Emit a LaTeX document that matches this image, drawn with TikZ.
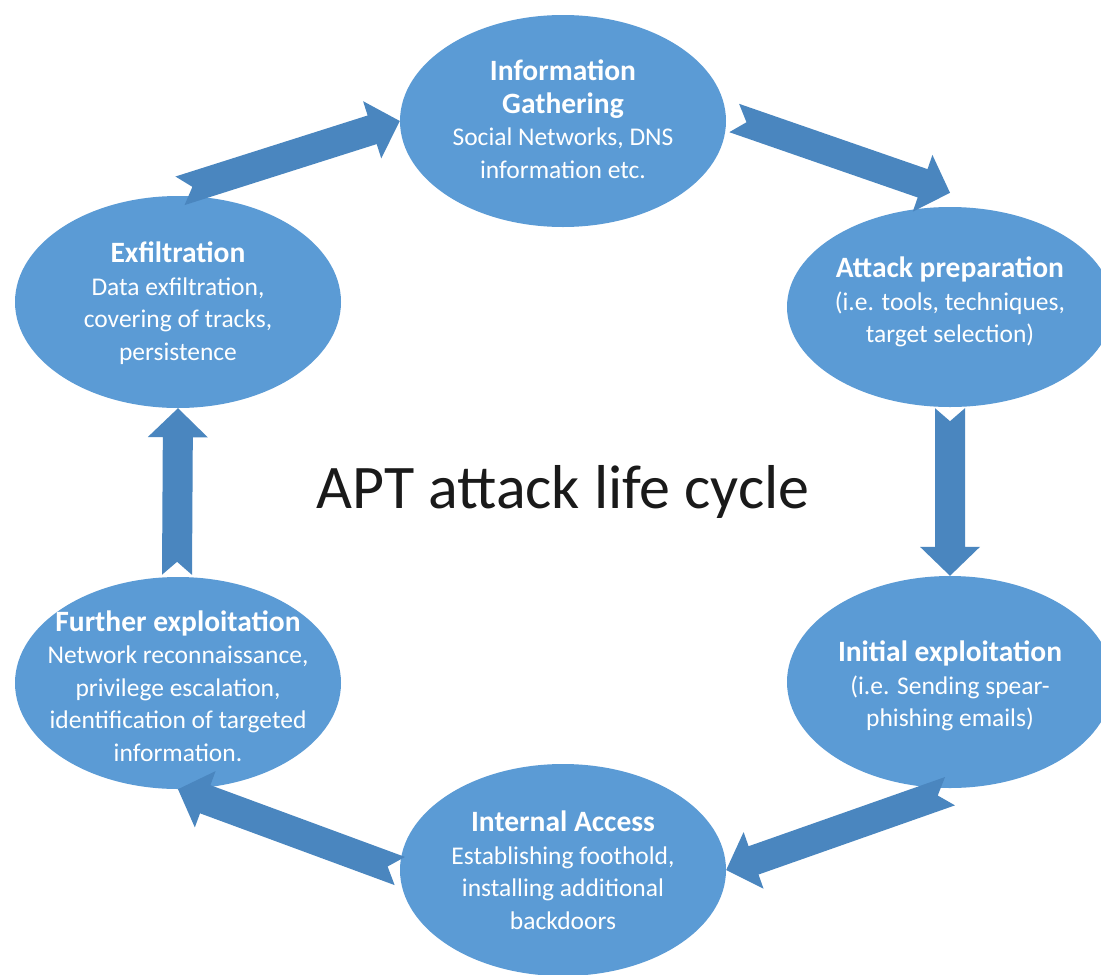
\documentclass[tikz,border=0pt]{standalone}
\usepackage{fontspec}
\setmainfont{Carlito}
\usetikzlibrary{shapes.geometric,calc}
\definecolor{stagefill}{HTML}{5B9BD5}
\definecolor{arrowfill}{HTML}{4A86BF}
\definecolor{titleink}{HTML}{1A1A1A}

% notched block arrow from tail coordinate #1 to tip coordinate #2
\newcommand\blockarrow[2]{%
  \coordinate (hb) at ($(#2)!29pt!(#1)$);
  \fill[arrowfill]
    ($(#1)!15pt!90:(#2)$) -- ($(hb)!15pt!90:(#2)$) -- ($(hb)!30pt!90:(#2)$)
    -- (#2)
    -- ($(hb)!30pt!-90:(#2)$) -- ($(hb)!15pt!-90:(#2)$) -- ($(#1)!15pt!-90:(#2)$)
    -- ($(#1)!13pt!(#2)$) -- cycle;}

% bold heading line inside a stage
\newcommand\stagehead[1]{{\fontsize{29.5}{33}\selectfont\bfseries #1}}

\tikzset{
  stage/.style={ellipse, fill=stagefill, minimum width=326pt, minimum height=212pt, inner sep=0pt},
  stagetext/.style={text=white, align=center, inner sep=0pt, font=\fontsize{25.5}{32.5}\selectfont},
}

\begin{document}
\begin{tikzpicture}[x=1pt,y=-1pt]
  \fill[white] (0,0) rectangle (1101,975);
  \useasboundingbox (0,0) rectangle (1101,975);

  % stages of the cycle
  \node[stage] (info)     at (563,121) {};
  \node[stage, minimum height=200pt] (prep) at (950,307) {};
  \node[stage] (init)     at (950,682) {};
  \node[stage] (internal) at (563,870) {};
  \node[stage] (further)  at (178,683) {};
  \node[stage] (exfil)    at (178,302) {};

  \node[stagetext] (info-t) at (563,119)
    {\stagehead{Information}\\\stagehead{Gathering}\\Social Networks, DNS\\information etc.};
  \node[stagetext] (prep-t) at (950,302)
    {\stagehead{Attack preparation}\\(i.e. tools, techniques,\\target selection)};
  \node[stagetext] (init-t) at (950,686)
    {\stagehead{Initial exploitation}\\(i.e. Sending spear-\\phishing emails)};
  \node[stagetext] (internal-t) at (563,870)
    {\stagehead{Internal Access}\\Establishing foothold,\\installing additional\\backdoors};
  \node[stagetext] (further-t) at (178,686)
    {\stagehead{Further exploitation}\\Network reconnaissance,\\privilege escalation,\\identification of targeted\\information.};
  \node[stagetext] (exfil-t) at (178,303)
    {\stagehead{Exfiltration}\\Data exfiltration,\\covering of tracks,\\persistence};

  % centre title
  \node[text=titleink, font=\fontsize{62}{70}\selectfont] (title) at (563,492) {APT attack life cycle};

  % arrow end points
  \coordinate (t1) at ($(exfil.north)+(2,-5)$);
  \coordinate (t2) at ($(info.east)+(8,-3)$);
  \coordinate (p2) at ($(prep.north)+(0,-14)$);
  \coordinate (t3) at ($(prep.south)+(0,1)$);
  \coordinate (t4) at ($(further.north)+(-1,-2)$);
  \coordinate (t5) at ($(init.south)+(0,3)$);
  \coordinate (t6) at ($(internal.west)+(0,1)$);

  \blockarrow{t1}{info.west}
  \blockarrow{t2}{p2}
  \blockarrow{t3}{init.north}
  \blockarrow{t5}{internal.east}
  \blockarrow{t6}{further.south}
  \blockarrow{t4}{exfil.south}
\end{tikzpicture}
\end{document}
